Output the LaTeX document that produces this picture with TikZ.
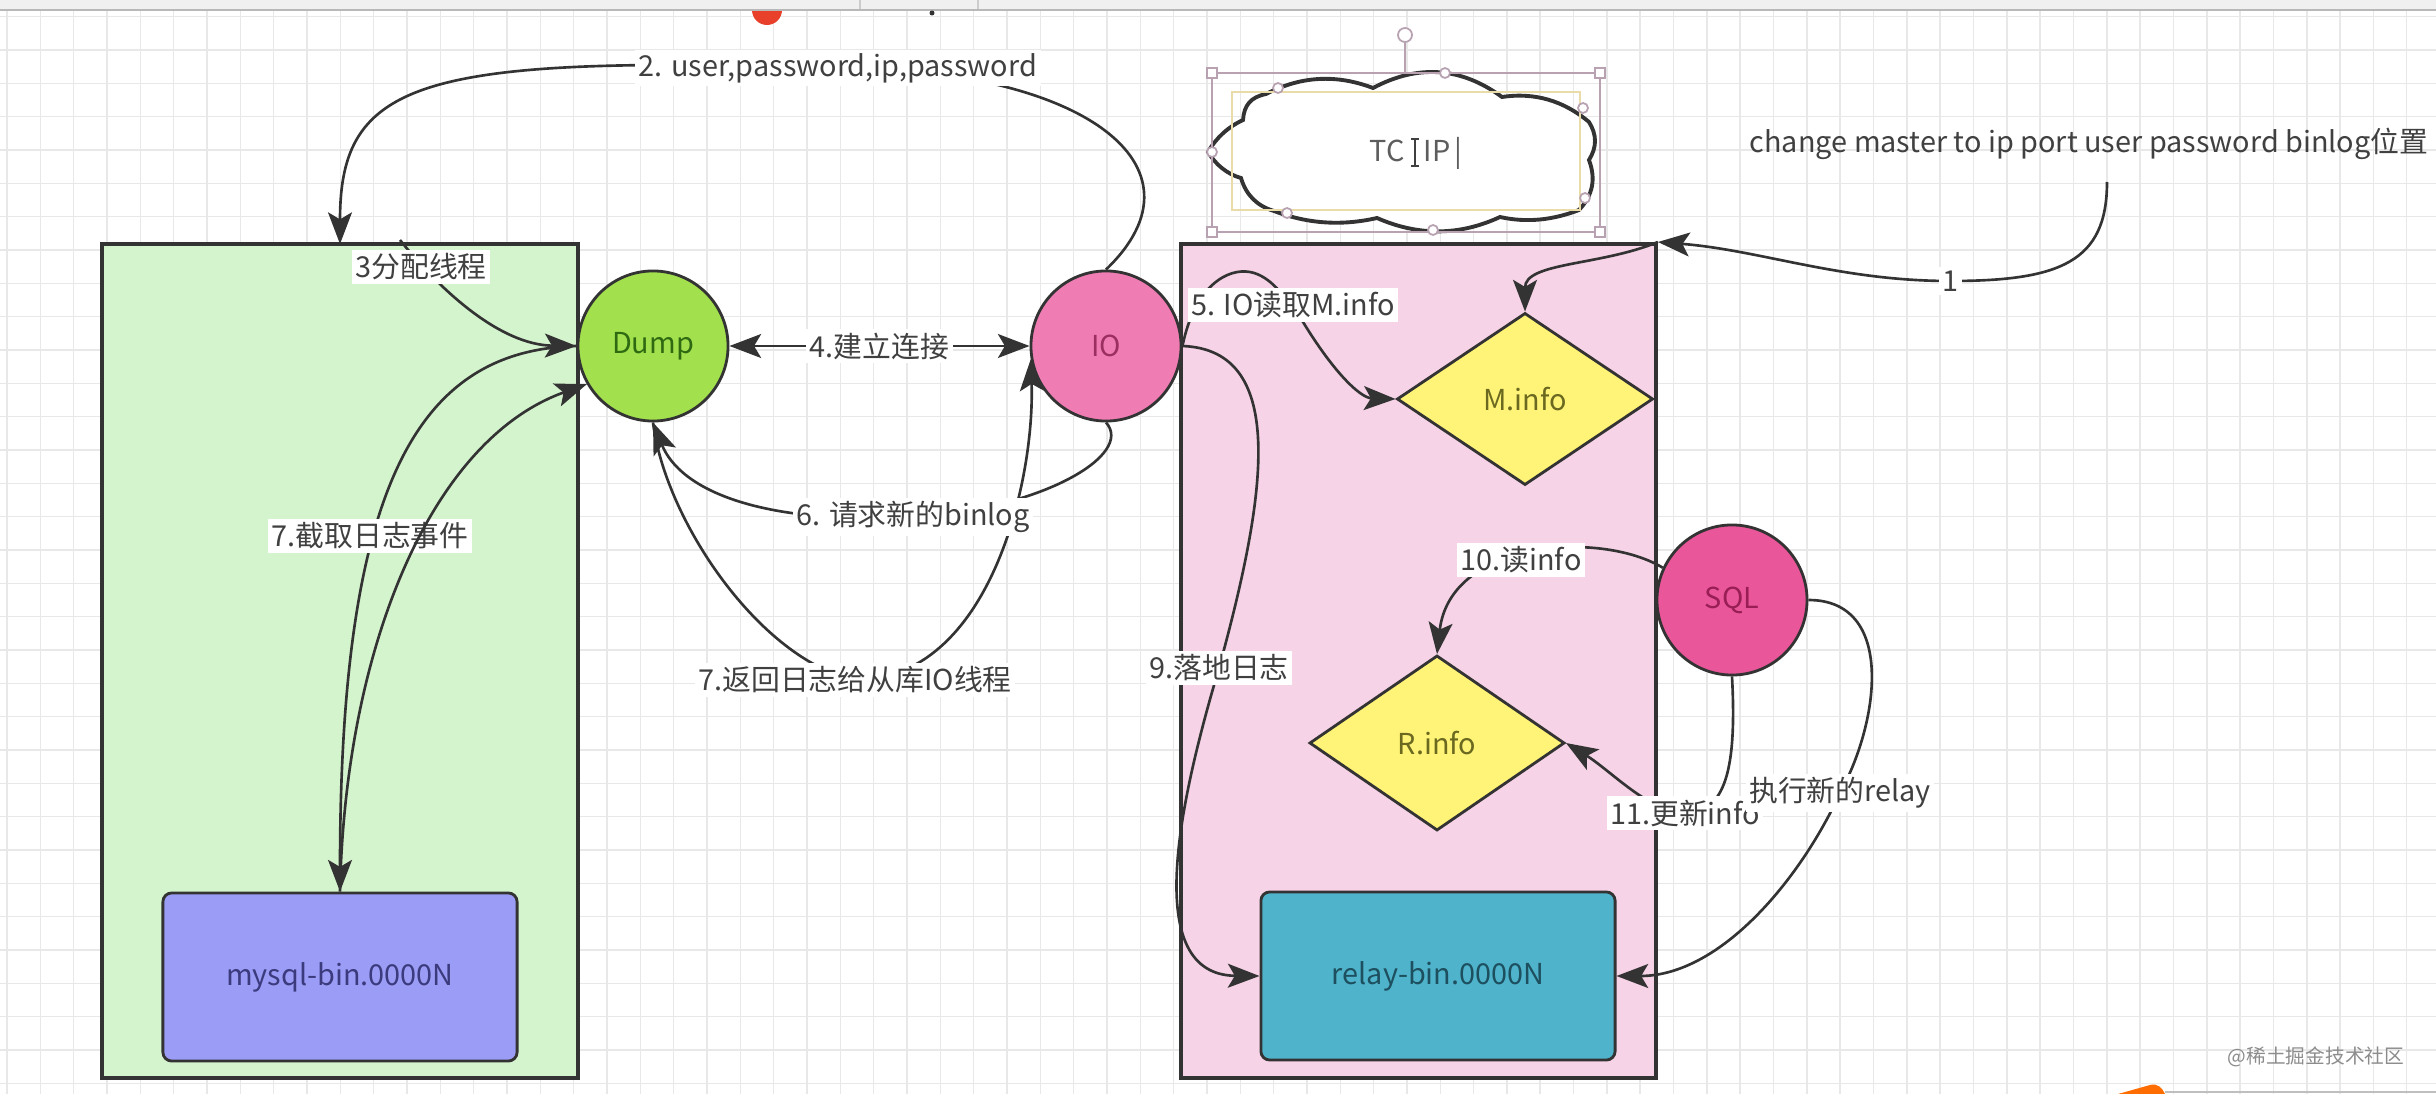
\documentclass[tikz,border=0pt]{standalone}
\usepackage{fontspec}
\setmainfont{Noto Sans CJK SC}
\usetikzlibrary{arrows.meta,shapes.geometric}

\definecolor{gridc}{HTML}{E8E8E8}
\definecolor{linec}{HTML}{333333}
\definecolor{labelc}{HTML}{404040}
\definecolor{masterfill}{HTML}{D4F4CE}
\definecolor{slavefill}{HTML}{F6D3E6}
\definecolor{dumpfill}{HTML}{A2E04E}
\definecolor{dumptext}{HTML}{2F6A12}
\definecolor{iofill}{HTML}{EF7DB3}
\definecolor{iotext}{HTML}{9B2F62}
\definecolor{sqlfill}{HTML}{E9579A}
\definecolor{sqltext}{HTML}{9A1E56}
\definecolor{infofill}{HTML}{FFF378}
\definecolor{infotext}{HTML}{6B6820}
\definecolor{mysqlfill}{HTML}{9B9CF6}
\definecolor{mysqltext}{HTML}{3A3A7C}
\definecolor{relayfill}{HTML}{4FB3CB}
\definecolor{relaytext}{HTML}{1D4F5E}
\definecolor{selc}{HTML}{B8A2B2}
\definecolor{textboxc}{HTML}{EADCAA}
\definecolor{topred}{HTML}{E8402A}

\pgfdeclarelayer{grid}
\pgfdeclarelayer{box}
\pgfdeclarelayer{edge}
\pgfsetlayers{grid,box,edge,main}

\newcommand{\lblsize}{\fontsize{8.2}{9.6}\selectfont}

\tikzset{
  flowtip/.tip={Stealth[length=9pt,width=6.8pt,inset=2pt]},
  container/.style={draw=linec, line width=1pt, inner sep=0pt},
  thread/.style={circle, draw=linec, line width=0.8pt, minimum size=1.5cm, inner sep=0pt, font=\lblsize},
  infofile/.style={diamond, draw=linec, line width=0.8pt, fill=infofill, text=infotext, inner sep=0pt, font=\lblsize},
  binfile/.style={rectangle, rounded corners=2.5pt, draw=linec, line width=0.8pt, minimum width=3.54cm, minimum height=1.68cm, font=\lblsize},
  lbl/.style={fill=white, inner sep=1pt, text=labelc, font=\lblsize},
  flow/.style={draw=linec, line width=0.75pt, -flowtip},
  gridline/.style={draw=gridc, line width=0.4pt},
  handle/.style={draw=selc, fill=white, line width=0.5pt},
}

\begin{document}
\begin{tikzpicture}[x=0.01cm, y=-0.01cm]
    \useasboundingbox (0,0) rectangle (2436,1094);

    % Canvas grid and window bits
    \begin{pgfonlayer}{grid}
        \fill[white] (0,0) rectangle (2436,1094);
        \foreach \gx in {0,...,73}
            \draw[gridline] ({7+33.33*\gx},10) -- ({7+33.33*\gx},1094);
        \foreach \gy in {0,...,32}
            \draw[gridline] (0,{16.7+33.33*\gy}) -- (2436,{16.7+33.33*\gy});
        \fill[topred] (767,10) circle (15);
        \fill[black!6] (0,0) rectangle (2436,9);
        \draw[black!20] (860,0) -- (860,9);
        \draw[black!20] (978,0) -- (978,9);
        \draw[black!28, line width=0.8pt] (0,10) -- (2436,10);
        \fill[black!80] (932,13) circle (2.5);
        \fill[orange!85!red] (2118,1094) -- (2150,1085) .. controls (2158,1083) and (2162,1088) .. (2165,1094) -- cycle;
        \draw[black!25, line width=0.8pt] (2165,1092) -- (2436,1092);
    \end{pgfonlayer}

    % Master and slave
    \begin{pgfonlayer}{box}
        \node[container, fill=masterfill, minimum width=4.76cm, minimum height=8.34cm] (master) at (340,661) {};
        \node[container, fill=slavefill, minimum width=4.75cm, minimum height=8.34cm] (slave) at (1418.5,661) {};
    \end{pgfonlayer}

    % Threads and files
    \node[thread, fill=dumpfill, text=dumptext] (dump) at (653,346) {Dump};
    \node[thread, fill=iofill, text=iotext] (io) at (1106,346) {IO};
    \node[thread, fill=sqlfill, text=sqltext] (sqlth) at (1732,600) {SQL};
    \node[infofile, minimum width=2.56cm, minimum height=1.72cm] (minfo) at (1525,399) {M.info};
    \node[infofile, minimum width=2.55cm, minimum height=1.75cm] (rinfo) at (1437,743) {R.info};
    \node[binfile, fill=mysqlfill, text=mysqltext] (mysqlbin) at (340,977) {mysql-bin.0000N};
    \node[binfile, fill=relayfill, text=relaytext] (relaybin) at (1438,976) {relay-bin.0000N};

    % Cloud (selected)
    \draw[linec, line width=1.1pt, fill=white] (1208,152) .. controls (1216,138) and (1228,127) .. (1243,120)
        .. controls (1244,105) and (1251,97) .. (1266,94)
        .. controls (1301,76) and (1336,74) .. (1373,88)
        .. controls (1418,64) and (1461,67) .. (1502,97)
        .. controls (1535,92) and (1564,101) .. (1589,122)
        .. controls (1597,135) and (1597,147) .. (1589,160)
        .. controls (1596,179) and (1593,195) .. (1579,210)
        .. controls (1553,220) and (1527,223) .. (1500,217)
        .. controls (1459,236) and (1418,236) .. (1377,218)
        .. controls (1342,226) and (1308,224) .. (1274,211)
        .. controls (1257,206) and (1246,195) .. (1241,178)
        .. controls (1227,174) and (1216,165) .. (1208,152) -- cycle;
    \draw[textboxc, line width=0.5pt] (1232,92) rectangle (1580,210);
    \draw[selc, line width=0.6pt] (1212,73) rectangle (1600,232);
    \draw[selc, line width=0.6pt] (1405,42) -- (1405,73);
    \draw[handle] (1405,35) circle (7);
    \foreach \hx/\hy in {1212/73,1600/73,1212/232,1600/232}
        \draw[handle] ({\hx-5},{\hy-5}) rectangle ({\hx+5},{\hy+5});
    \foreach \hx/\hy in {1278/88,1445/73,1583/108,1212/152,1585/198,1287/213,1433/230}
        \draw[handle] (\hx,\hy) circle (5);
    \node[font=\lblsize, text=labelc!85, anchor=west, inner sep=0pt] (tcpip) at (1369,153) {TC\hspace{5.5pt}IP\hspace{1pt}|};
    \draw[labelc, line width=0.5pt] (1415,139) -- (1415,166) (1411,139) -- (1419,139) (1411,166) -- (1419,166);

    % Labels
    \node[text=labelc, font=\lblsize, anchor=west, inner sep=0pt] (cm) at (1749,144) {change master to ip port user password binlog位置};
    \node[lbl] (l1) at (1950,281) {1};
    \node[lbl] (l2) at (838,68) {2. user,password,ip,password};
    \node[lbl] (l3) at (421,267) {3分配线程};
    \node[lbl] (l5) at (1293,305) {5. IO读取M.info};
    \node[lbl] (l6) at (913,517) {6. 请求新的binlog};
    \node[lbl] (l7a) at (370,536) {7.截取日志事件};
    \node[lbl] (l7b) at (855,680) {7.返回日志给从库IO线程};
    \node[lbl] (l9) at (1219,668) {9.落地日志};
    \node[lbl] (l10) at (1521,560) {10.读info};
    \node[lbl] (l11) at (1685,813) {11.更新info};
    \node[lbl] (l12) at (1840,793) {执行新的relay};

    \coordinate (cmstart) at (2107,182);
    \coordinate (c2end) at (340,244);
    \coordinate (c3start) at (400,240);

    % Connectors
    \begin{pgfonlayer}{edge}
        \draw[flow] (cmstart) .. controls (2107,262) and (2060,281) .. (l1.center) .. controls (1840,281) and (1760,250) .. (slave.north east);
        \draw[flow] (slave.north east) .. controls (1600,266) and (1525,262) .. (minfo.north);
        \draw[flow] (io.north) .. controls (1215,165) and (1080,68) .. (l2.center) .. controls (420,55) and (340,80) .. (c2end);
        \draw[flow] (c3start) .. controls (440,290) and (500,345) .. (dump.west);
        \draw[flow, flowtip-flowtip] (dump) -- node[lbl] (l4) {4.建立连接} (io);
        \draw[flow] (io.east) .. controls (1195,285) and (1228,268) .. (1250,272) .. controls (1272,276) and (1285,300) .. (l5.center) .. controls (1330,370) and (1360,398) .. (minfo.west);
        \draw[flow] (io.south) .. controls (1135,455) and (1040,510) .. (l6.center) .. controls (760,525) and (680,490) .. (dump.south);
        \draw[flow] (dump.south) .. controls (665,520) and (760,660) .. (l7b.center) .. controls (990,680) and (1035,480) .. (io.190);
        \draw[flow] (dump.west) .. controls (420,350) and (340,480) .. (mysqlbin.north);
        \draw[flow] (io.east) .. controls (1290,350) and (1265,500) .. (l9.center) .. controls (1180,800) and (1140,975) .. (relaybin.west);
        \draw[flow] (sqlth.155) .. controls (1600,530) and (1450,540) .. (rinfo.north);
        \draw[flow] (sqlth.south) .. controls (1737,770) and (1725,813) .. (l11.center) .. controls (1650,813) and (1610,770) .. (rinfo.east);
        \draw[flow] (sqlth.east) .. controls (1895,600) and (1880,720) .. (l12.center) .. controls (1800,880) and (1720,976) .. (relaybin.east);
    \end{pgfonlayer}
    \draw[flow] (mysqlbin.north) .. controls (345,650) and (430,440) .. (dump.210);

    \node[text=black!45, font=\fontsize{5.6}{6.5}\selectfont] (mark) at (2316,1057) {@稀土掘金技术社区};
\end{tikzpicture}
\end{document}
